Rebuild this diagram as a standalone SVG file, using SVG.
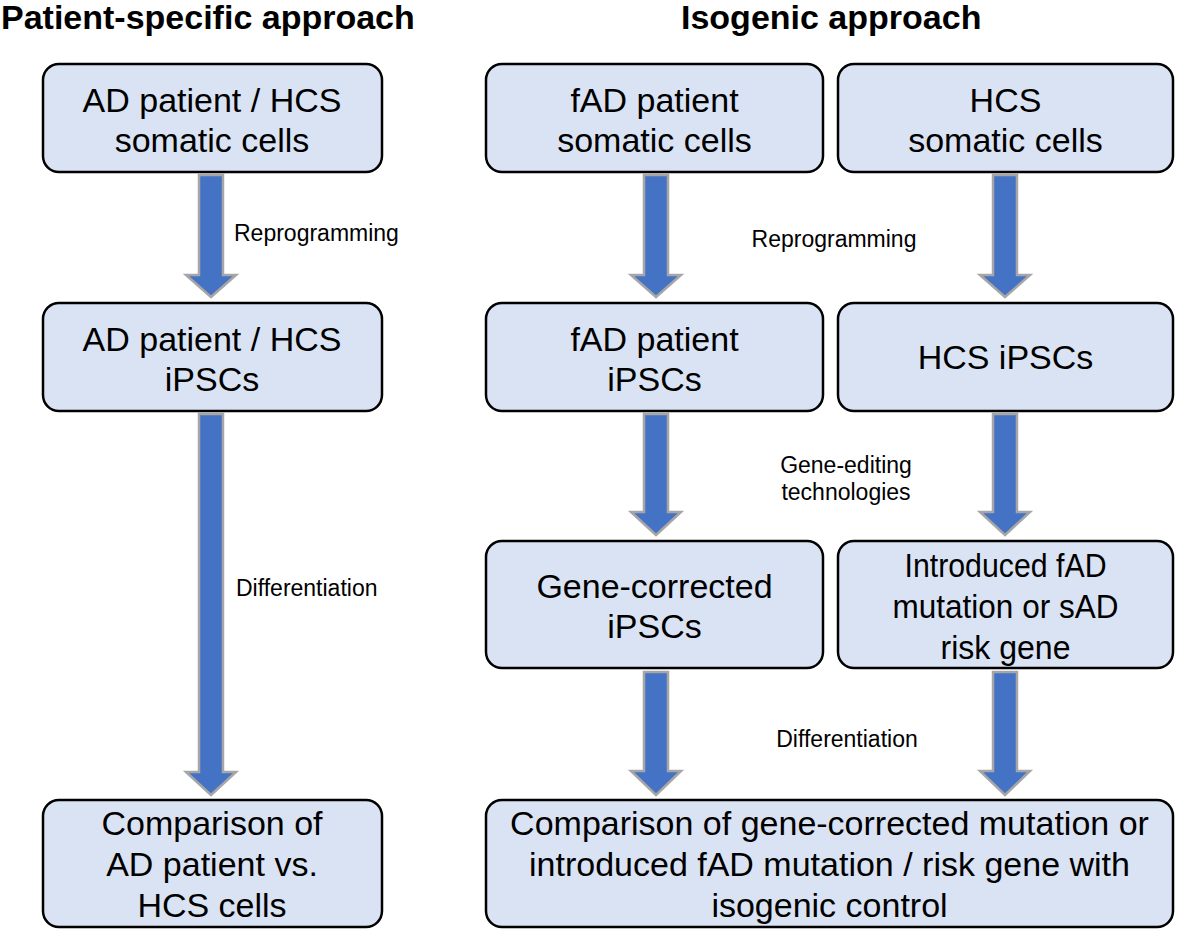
<svg xmlns="http://www.w3.org/2000/svg" width="1181" height="933" viewBox="0 0 1181 933">
<defs>
<style>
.box{fill:#dae3f3;stroke:#000;stroke-width:2.5}
.t{font-family:"Liberation Sans",Arial,sans-serif;font-size:34px;fill:#000;text-anchor:middle}
.h{font-family:"Liberation Sans",Arial,sans-serif;font-size:34px;font-weight:bold;fill:#000}
.l{font-family:"Liberation Sans",Arial,sans-serif;font-size:23px;fill:#000}
.arr{fill:#4472c4;stroke:#a6a6a6;stroke-width:2.5;stroke-linejoin:miter}
</style>
</defs>
<rect width="1181" height="933" fill="#fff"/>
<text class="h" x="1" y="29">Patient-specific approach</text>
<text class="h" x="681" y="29">Isogenic approach</text>

<g id="connectors">
<path class="arr" d="M199,175 H223 V275 H236 L211,297 L186,275 H199 Z"/>
<path class="arr" d="M199,414 H223 V772 H236 L211,795 L186,772 H199 Z"/>
<path class="arr" d="M644,175 H668 V275 H681 L656,297 L631,275 H644 Z"/>
<path class="arr" d="M993,175 H1017 V275 H1030 L1005,297 L980,275 H993 Z"/>
<path class="arr" d="M644,414 H668 V512 H681 L656,535 L631,512 H644 Z"/>
<path class="arr" d="M993,414 H1017 V512 H1030 L1005,535 L980,512 H993 Z"/>
<path class="arr" d="M644,672 H668 V771 H681 L656,795 L631,771 H644 Z"/>
<path class="arr" d="M993,672 H1017 V771 H1030 L1005,795 L980,771 H993 Z"/>
<text class="l" x="234" y="241">Reprogramming</text>
<text class="l" x="236" y="596">Differentiation</text>
<text class="l" x="834" y="247" text-anchor="middle">Reprogramming</text>
<text class="l" x="846" y="473" text-anchor="middle">Gene-editing</text>
<text class="l" x="846" y="500" text-anchor="middle">technologies</text>
<text class="l" x="847" y="747" text-anchor="middle">Differentiation</text>
</g>

<g id="n1">
<rect class="box" x="43" y="64" width="339" height="108" rx="16"/>
<text class="t" x="212" y="112">AD patient / HCS</text>
<text class="t" x="212" y="152">somatic cells</text>
</g>
<g id="n2">
<rect class="box" x="43" y="303" width="339" height="108" rx="16"/>
<text class="t" x="212" y="351">AD patient / HCS</text>
<text class="t" x="212" y="391">iPSCs</text>
</g>
<g id="n3">
<rect class="box" x="43" y="800" width="339" height="127" rx="16"/>
<text class="t" x="212" y="835">Comparison of</text>
<text class="t" x="212" y="876">AD patient vs.</text>
<text class="t" x="212" y="917">HCS cells</text>
</g>
<g id="n4">
<rect class="box" x="486" y="64" width="337" height="108" rx="16"/>
<text class="t" x="654.5" y="112">fAD patient</text>
<text class="t" x="654.5" y="152">somatic cells</text>
</g>
<g id="n5">
<rect class="box" x="838" y="64" width="335" height="108" rx="16"/>
<text class="t" x="1005.5" y="112">HCS</text>
<text class="t" x="1005.5" y="152">somatic cells</text>
</g>
<g id="n6">
<rect class="box" x="486" y="303" width="337" height="108" rx="16"/>
<text class="t" x="654.5" y="351">fAD patient</text>
<text class="t" x="654.5" y="391">iPSCs</text>
</g>
<g id="n7">
<rect class="box" x="838" y="303" width="335" height="108" rx="16"/>
<text class="t" x="1005.5" y="369">HCS iPSCs</text>
</g>
<g id="n8">
<rect class="box" x="486" y="541" width="337" height="127" rx="16"/>
<text class="t" x="654.5" y="598">Gene-corrected</text>
<text class="t" x="654.5" y="638">iPSCs</text>
</g>
<g id="n9">
<rect class="box" x="838" y="541" width="335" height="127" rx="16"/>
<text class="t" x="1005.5" y="577" textLength="202" lengthAdjust="spacingAndGlyphs">Introduced fAD</text>
<text class="t" x="1005.5" y="618" textLength="226" lengthAdjust="spacingAndGlyphs">mutation or sAD</text>
<text class="t" x="1005.5" y="659" textLength="130" lengthAdjust="spacingAndGlyphs">risk gene</text>
</g>
<g id="n10">
<rect class="box" x="486" y="800" width="687" height="127" rx="16"/>
<text class="t" x="829.5" y="835">Comparison of gene-corrected mutation or</text>
<text class="t" x="829.5" y="876">introduced fAD mutation / risk gene with</text>
<text class="t" x="829.5" y="917">isogenic control</text>
</g>
</svg>
